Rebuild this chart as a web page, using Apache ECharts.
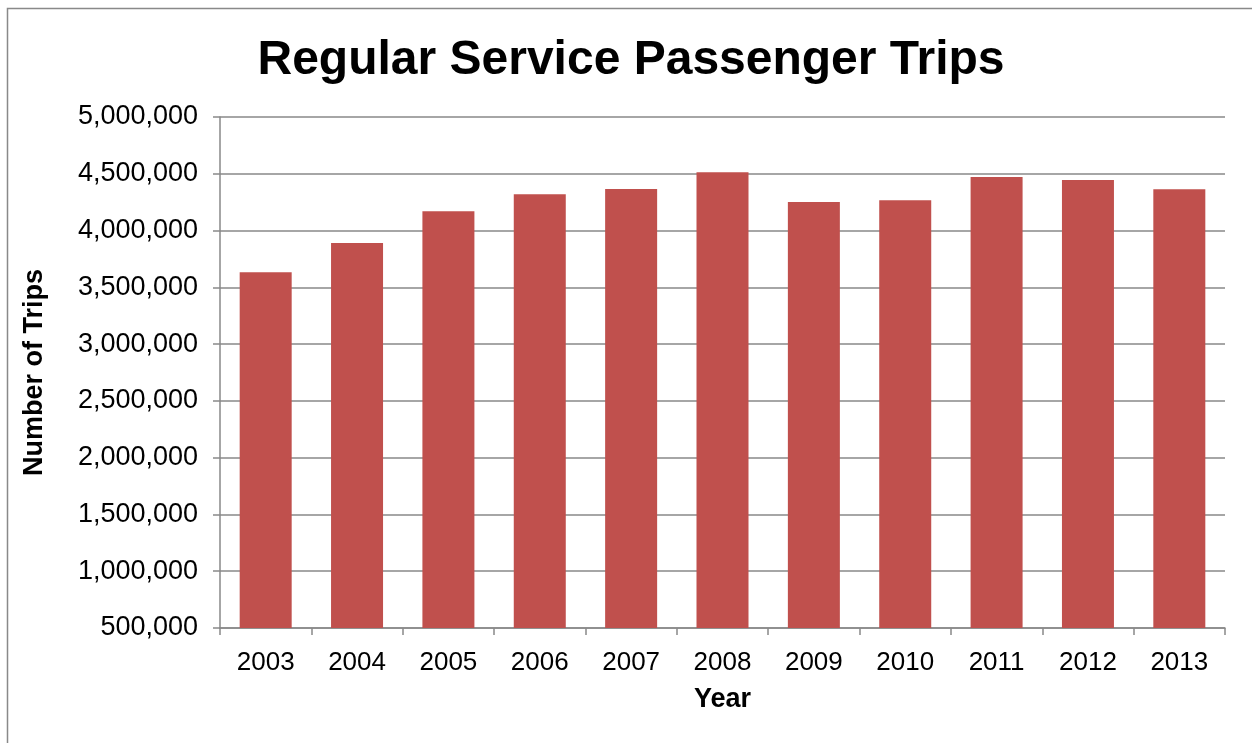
<!DOCTYPE html>
<html>
<head>
<meta charset="utf-8">
<script src="https://cdn.jsdelivr.net/npm/echarts@6/dist/echarts.min.js"></script>
<style>
  html, body { margin: 0; padding: 0; background: #fff; }
  #chart { width: 1252px; height: 743px; }
</style>
</head>
<body>
<div id="chart"></div>
<script>
const years = ['2003', '2004', '2005', '2006', '2007', '2008', '2009', '2010', '2011', '2012', '2013']
const trips = [3632000, 3890000, 4169000, 4319000, 4366000, 4513000, 4251000, 4266000, 4471000, 4445000, 4363000]

const chart = echarts.init(document.getElementById('chart'))
const font = '"Liberation Sans", Arial, sans-serif'

chart.setOption({
  animation: false,
  graphic: [{
    type: 'rect',
    shape: { x: 7.5, y: 8.5, width: 1260, height: 760 },
    style: { fill: 'none', stroke: '#898989', lineWidth: 1.5 }
  }],
  title: {
    text: 'Regular Service Passenger Trips',
    left: 626, top: 32, textAlign: 'center',
    textStyle: { fontFamily: font, fontSize: 48, fontWeight: 'bold', color: '#000' }
  },
  grid: { left: 220, right: 27, top: 117, bottom: 115, containLabel: false },
  xAxis: {
    type: 'category',
    data: years,
    name: 'Year',
    nameLocation: 'middle',
    nameGap: 58,
    nameTextStyle: { fontFamily: font, fontSize: 27, fontWeight: 'bold', color: '#000' },
    axisLine: { lineStyle: { color: '#898989', width: 1.5 } },
    axisTick: { show: true, length: 7, lineStyle: { color: '#898989', width: 1.5 } },
    axisLabel: { fontFamily: font, fontSize: 26, color: '#000', margin: 22 }
  },
  yAxis: {
    type: 'value',
    min: 500000, max: 5000000, interval: 500000,
    name: 'Number of Trips',
    nameLocation: 'middle',
    nameGap: 172,
    nameTextStyle: { fontFamily: font, fontSize: 27, fontWeight: 'bold', color: '#000' },
    axisLine: { show: true, lineStyle: { color: '#898989', width: 1.5 } },
    axisTick: { show: true, length: 7, lineStyle: { color: '#898989', width: 1.5 } },
    splitLine: { lineStyle: { color: '#898989', width: 1.5 } },
    axisLabel: {
      fontFamily: font, fontSize: 27, color: '#000', margin: 22,
      formatter: v => v.toLocaleString('en-US')
    }
  },
  series: [{
    type: 'bar',
    data: trips,
    barWidth: 52,
    itemStyle: { color: '#C0504D' }
  }]
})
</script>
</body>
</html>
